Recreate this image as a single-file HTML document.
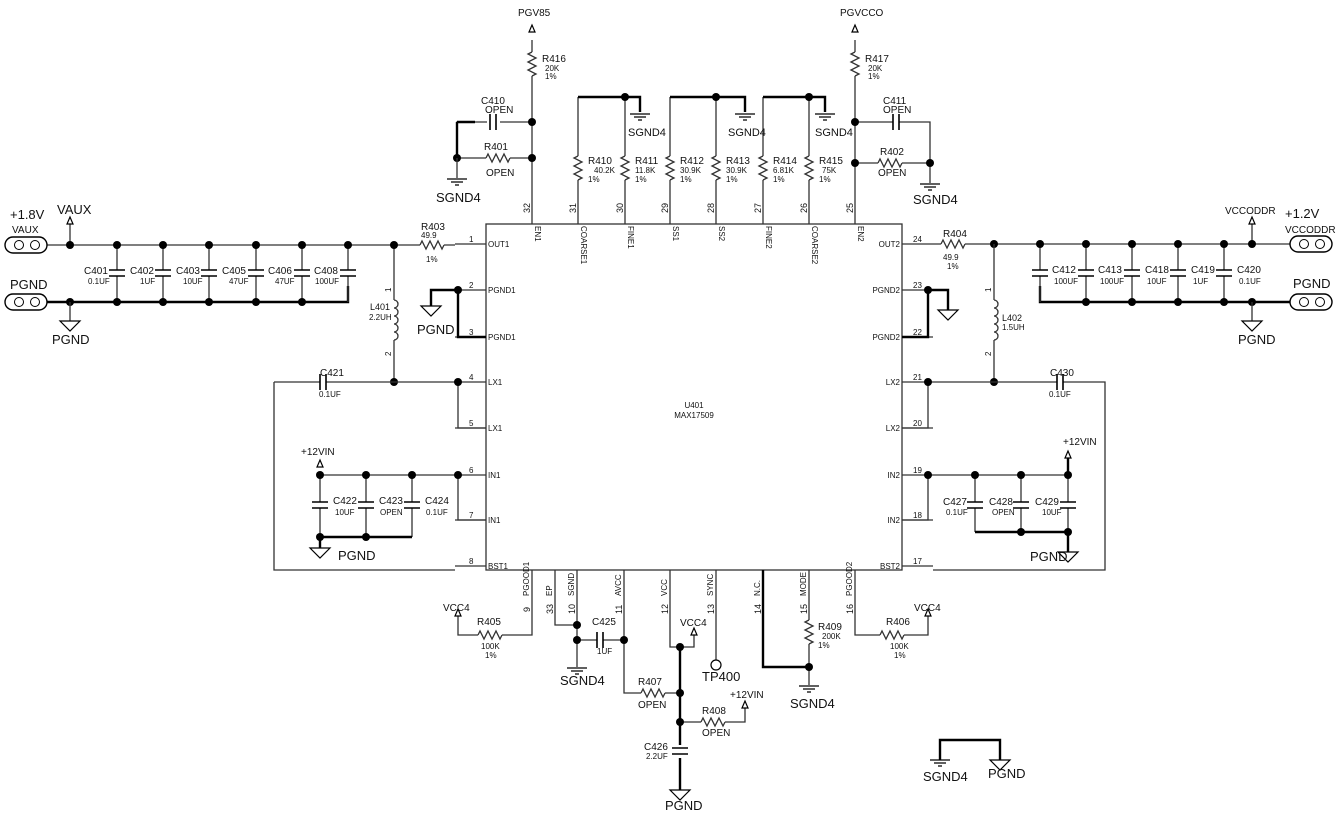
<!DOCTYPE html>
<html><head><meta charset="utf-8"><style>
body{margin:0;background:#fff}
svg{display:block}
text{font-family:"Liberation Sans",Arial,sans-serif;fill:#111}
.w{stroke:#333;stroke-width:1.3;fill:none}
.b{stroke:#000;stroke-width:2.4;fill:none}
.s{font-size:8px}
.m{font-size:11px}
.l{font-size:13px}
</style></head><body>
<svg width="1341" height="816" viewBox="0 0 1341 816" xmlns="http://www.w3.org/2000/svg">
<defs>
<g id="dot"><circle r="4" fill="#000"/></g>
<g id="rh"><rect x="0" y="-5" width="24" height="10" fill="#fff"/><path d="M0,0 l2,-4 l4,8 l4,-8 l4,8 l4,-8 l4,8 l2,-4" class="w"/></g>
<g id="rv"><rect x="-5" y="0" width="10" height="24" fill="#fff"/><path d="M0,0 l-4,2 l8,4 l-8,4 l8,4 l-8,4 l8,4 l-4,2" class="w"/></g>
<g id="cv"><rect x="-9" y="-3" width="18" height="6" fill="#fff"/><path d="M-8,-3 h16 M-8,3 h16" stroke="#000" stroke-width="1.6"/></g>
<g id="ch"><rect x="-3" y="-9" width="6" height="18" fill="#fff"/><path d="M-3,-8 v16 M3,-8 v16" stroke="#000" stroke-width="1.6"/></g>
<g id="sg"><path d="M-10,0 h20 M-6,3 h12 M-2,6 h4" stroke="#000" stroke-width="1.2"/></g>
<g id="pg"><polygon points="-10,0 10,0 0,10" fill="#fff" stroke="#000" stroke-width="1.2"/></g>
<g id="ar"><polygon points="-3,0 3,0 0,-7" fill="#fff" stroke="#000" stroke-width="1.2"/></g>
<g id="cn"><rect x="0" y="-8" width="42" height="16" rx="8" fill="#fff" stroke="#000" stroke-width="1.4"/><circle cx="14" cy="0" r="4.5" fill="#fff" stroke="#000"/><circle cx="30" cy="0" r="4.5" fill="#fff" stroke="#000"/></g>
<g id="coil"><path d="M0,0 a4,4 0 1 1 0,8 a4,4 0 1 1 0,8 a4,4 0 1 1 0,8 a4,4 0 1 1 0,8 a4,4 0 1 1 0,8" fill="#fff" stroke="#333" stroke-width="1.3"/></g>
</defs>

<!-- chip -->
<rect x="486" y="224" width="416" height="346" fill="none" stroke="#333" stroke-width="1.3"/>
<text x="694" y="408" class="s" text-anchor="middle">U401</text>
<text x="694" y="418" class="s" text-anchor="middle">MAX17509</text>
<!-- left pins -->
<g class="w"><path d="M455,244H486M455,290H486M455,337H486M455,382H486M455,428H486M455,475H486M455,520H486M455,566H486"/>
<path d="M902,244H933M902,290H933M902,337H933M902,382H933M902,428H933M902,475H933M902,520H933M902,566H933"/></g>
<g class="s">
<text x="488" y="247">OUT1</text><text x="488" y="293">PGND1</text><text x="488" y="340">PGND1</text><text x="488" y="385">LX1</text><text x="488" y="431">LX1</text><text x="488" y="478">IN1</text><text x="488" y="523">IN1</text><text x="488" y="569">BST1</text>
<text x="900" y="247" text-anchor="end">OUT2</text><text x="900" y="293" text-anchor="end">PGND2</text><text x="900" y="340" text-anchor="end">PGND2</text><text x="900" y="385" text-anchor="end">LX2</text><text x="900" y="431" text-anchor="end">LX2</text><text x="900" y="478" text-anchor="end">IN2</text><text x="900" y="523" text-anchor="end">IN2</text><text x="900" y="569" text-anchor="end">BST2</text>
</g>
<g class="s" font-size="9">
<text x="469" y="242">1</text><text x="469" y="288">2</text><text x="469" y="335">3</text><text x="469" y="380">4</text><text x="469" y="426">5</text><text x="469" y="473">6</text><text x="469" y="518">7</text><text x="469" y="564">8</text>
<text x="913" y="242">24</text><text x="913" y="288">23</text><text x="913" y="335">22</text><text x="913" y="380">21</text><text x="913" y="426">20</text><text x="913" y="473">19</text><text x="913" y="518">18</text><text x="913" y="564">17</text>
</g>
<!-- top pins -->
<path class="w" d="M532,224V40M578,224V97M625,224V97M670,224V97M716,224V97M763,224V97M809,224V97M855,224V40"/>
<g class="s">
<g transform="translate(535,226) rotate(90)"><text>EN1</text></g>
<g transform="translate(581,226) rotate(90)"><text>COARSE1</text></g>
<g transform="translate(628,226) rotate(90)"><text>FINE1</text></g>
<g transform="translate(673,226) rotate(90)"><text>SS1</text></g>
<g transform="translate(719,226) rotate(90)"><text>SS2</text></g>
<g transform="translate(766,226) rotate(90)"><text>FINE2</text></g>
<g transform="translate(812,226) rotate(90)"><text>COARSE2</text></g>
<g transform="translate(858,226) rotate(90)"><text>EN2</text></g>
</g>
<g font-size="9">
<g transform="translate(530,213) rotate(-90)"><text>32</text></g>
<g transform="translate(576,213) rotate(-90)"><text>31</text></g>
<g transform="translate(623,213) rotate(-90)"><text>30</text></g>
<g transform="translate(668,213) rotate(-90)"><text>29</text></g>
<g transform="translate(714,213) rotate(-90)"><text>28</text></g>
<g transform="translate(761,213) rotate(-90)"><text>27</text></g>
<g transform="translate(807,213) rotate(-90)"><text>26</text></g>
<g transform="translate(853,213) rotate(-90)"><text>25</text></g>
</g>
<!-- top resistor groups -->
<path class="b" d="M578,97H640V112M670,97H745V112M763,97H825V112"/>
<use href="#dot" x="625" y="97"/><use href="#dot" x="716" y="97"/><use href="#dot" x="809" y="97"/>
<use href="#sg" x="640" y="114"/><use href="#sg" x="745" y="114"/><use href="#sg" x="825" y="114"/>
<text x="628" y="136" class="m" font-size="10">SGND4</text><text x="728" y="136" class="m" font-size="10">SGND4</text><text x="815" y="136" class="m" font-size="10">SGND4</text>
<use href="#rv" x="578" y="156"/><use href="#rv" x="625" y="156"/><use href="#rv" x="670" y="156"/><use href="#rv" x="716" y="156"/><use href="#rv" x="763" y="156"/><use href="#rv" x="809" y="156"/>
<g font-size="10"><text x="588" y="164">R410</text><text x="635" y="164">R411</text><text x="680" y="164">R412</text><text x="726" y="164">R413</text><text x="773" y="164">R414</text><text x="819" y="164">R415</text></g>
<g class="s"><text x="594" y="173">40.2K</text><text x="635" y="173">11.8K</text><text x="680" y="173">30.9K</text><text x="726" y="173">30.9K</text><text x="773" y="173">6.81K</text><text x="822" y="173">75K</text>
<text x="588" y="182">1%</text><text x="635" y="182">1%</text><text x="680" y="182">1%</text><text x="726" y="182">1%</text><text x="773" y="182">1%</text><text x="819" y="182">1%</text></g>
<!-- PGV85 -->
<use href="#ar" x="532" y="32"/><text x="518" y="16" font-size="10">PGV85</text>
<use href="#rv" x="532" y="52"/><text x="542" y="62" font-size="10">R416</text><text x="545" y="71" class="s">20K</text><text x="545" y="79" class="s">1%</text>
<path class="w" d="M532,122H500M487,122H457V158H532"/><path class="b" d="M457,122H475M457,122V158"/>
<use href="#ch" x="493" y="122"/><use href="#rh" x="486" y="158"/>
<use href="#dot" x="532" y="122"/><use href="#dot" x="532" y="158"/><use href="#dot" x="457" y="158"/>
<path class="w" d="M457,158V178"/><use href="#sg" x="457" y="179"/>
<text x="481" y="104" font-size="10">C410</text><text x="485" y="113" font-size="10">OPEN</text>
<text x="484" y="150" font-size="10">R401</text><text x="486" y="176" font-size="10">OPEN</text>
<text x="436" y="202" class="l" font-size="12">SGND4</text>
<!-- PGVCCO -->
<use href="#ar" x="855" y="32"/><text x="840" y="16" font-size="10">PGVCCO</text>
<use href="#rv" x="855" y="52"/><text x="865" y="62" font-size="10">R417</text><text x="868" y="71" class="s">20K</text><text x="868" y="79" class="s">1%</text>
<path class="w" d="M855,122H930V163M855,163H930V183"/>
<use href="#ch" x="896" y="122"/><use href="#rh" x="878" y="163"/>
<use href="#dot" x="855" y="122"/><use href="#dot" x="855" y="163"/><use href="#dot" x="930" y="163"/>
<use href="#sg" x="930" y="184"/>
<text x="883" y="104" font-size="10">C411</text><text x="883" y="113" font-size="10">OPEN</text>
<text x="880" y="155" font-size="10">R402</text><text x="878" y="176" font-size="10">OPEN</text>
<text x="913" y="204" class="l" font-size="12">SGND4</text>

<!-- LEFT rail -->
<path class="w" d="M45,245H455"/><path class="b" d="M45,302H348V286"/>
<use href="#rh" x="420" y="245"/>
<text x="421" y="230" font-size="10">R403</text><text x="421" y="238" class="s">49.9</text><text x="426" y="262" class="s">1%</text>
<use href="#cn" x="5" y="245"/><use href="#cn" x="5" y="302"/>
<text x="10" y="219" class="l" font-size="12">+1.8V</text><text x="12" y="233" font-size="10">VAUX</text>
<text x="10" y="289" class="l" font-size="14">PGND</text>
<path class="w" d="M70,245V224"/><use href="#ar" x="70" y="224"/><text x="57" y="214" class="l">VAUX</text>
<use href="#dot" x="70" y="245"/><use href="#dot" x="70" y="302"/>
<path class="w" d="M70,302V321"/><use href="#pg" x="70" y="321"/><text x="52" y="344" class="l" font-size="12">PGND</text>
<g class="w"><path d="M117,245V302M163,245V302M209,245V302M256,245V302M302,245V302M348,245V302"/></g>
<use href="#cv" x="117" y="273"/><use href="#cv" x="163" y="273"/><use href="#cv" x="209" y="273"/><use href="#cv" x="256" y="273"/><use href="#cv" x="302" y="273"/><use href="#cv" x="348" y="273"/>
<g><use href="#dot" x="117" y="245"/><use href="#dot" x="163" y="245"/><use href="#dot" x="209" y="245"/><use href="#dot" x="256" y="245"/><use href="#dot" x="302" y="245"/><use href="#dot" x="348" y="245"/>
<use href="#dot" x="117" y="302"/><use href="#dot" x="163" y="302"/><use href="#dot" x="209" y="302"/><use href="#dot" x="256" y="302"/><use href="#dot" x="302" y="302"/></g>
<g font-size="10"><text x="84" y="274">C401</text><text x="130" y="274">C402</text><text x="176" y="274">C403</text><text x="222" y="274">C405</text><text x="268" y="274">C406</text><text x="314" y="274">C408</text></g>
<g class="s" font-size="7"><text x="88" y="284">0.1UF</text><text x="140" y="284">1UF</text><text x="183" y="284">10UF</text><text x="229" y="284">47UF</text><text x="275" y="284">47UF</text><text x="315" y="284">100UF</text></g>
<!-- L401 -->
<path class="w" d="M394,245V300M394,340V382"/><use href="#coil" x="394" y="300"/>
<use href="#dot" x="394" y="245"/><use href="#dot" x="394" y="382"/>
<text x="370" y="310" font-size="9">L401</text><text x="369" y="320" class="s" font-size="7">2.2UH</text>
<g font-size="8"><g transform="translate(391,292) rotate(-90)"><text>1</text></g><g transform="translate(391,356) rotate(-90)"><text>2</text></g></g>
<!-- LX1 loop -->
<path class="w" d="M274,382H455M274,382V570H455M458,382V428H486"/>
<use href="#ch" x="323" y="382"/><use href="#dot" x="458" y="382"/>
<text x="320" y="376" font-size="10">C421</text><text x="319" y="397" class="s" font-size="7">0.1UF</text>
<!-- PGND1 -->
<path class="b" d="M458,290V337H486M458,290H431V306"/>
<use href="#dot" x="458" y="290"/><use href="#pg" x="431" y="306"/><text x="417" y="334" class="l" font-size="12">PGND</text>
<!-- IN1 -->
<path class="w" d="M320,475H455M458,475V520H486M320,475V537M366,475V537M412,475V537"/>
<path class="b" d="M320,537H412M320,537V548"/>
<use href="#cv" x="320" y="505"/><use href="#cv" x="366" y="505"/><use href="#cv" x="412" y="505"/>
<use href="#dot" x="320" y="475"/><use href="#dot" x="366" y="475"/><use href="#dot" x="412" y="475"/><use href="#dot" x="458" y="475"/>
<use href="#dot" x="320" y="537"/><use href="#dot" x="366" y="537"/>
<use href="#ar" x="320" y="467"/><text x="301" y="455" font-size="10">+12VIN</text>
<use href="#pg" x="320" y="548"/><text x="338" y="560" class="l" font-size="12">PGND</text>
<g font-size="10"><text x="333" y="504">C422</text><text x="379" y="504">C423</text><text x="425" y="504">C424</text></g>
<g class="s" font-size="7"><text x="335" y="515">10UF</text><text x="380" y="515">OPEN</text><text x="426" y="515">0.1UF</text></g>

<!-- RIGHT rail -->
<path class="w" d="M933,244H1290"/><path class="b" d="M1040,286V302H1290"/>
<use href="#rh" x="941" y="244"/>
<text x="943" y="237" font-size="10">R404</text><text x="943" y="260" class="s">49.9</text><text x="947" y="269" class="s">1%</text>
<use href="#cn" x="1290" y="244"/><use href="#cn" x="1290" y="302"/>
<text x="1285" y="218" class="l" font-size="12">+1.2V</text><text x="1285" y="233" font-size="10">VCCODDR</text>
<text x="1293" y="288" class="l" font-size="13">PGND</text>
<path class="w" d="M1252,244V224"/><use href="#ar" x="1252" y="224"/><text x="1225" y="214" font-size="10">VCCODDR</text>
<use href="#dot" x="1252" y="244"/><use href="#dot" x="1252" y="302"/>
<path class="w" d="M1252,302V321"/><use href="#pg" x="1252" y="321"/><text x="1238" y="344" class="l" font-size="12">PGND</text>
<g class="w"><path d="M1040,244V302M1086,244V302M1132,244V302M1178,244V302M1224,244V302"/></g>
<use href="#cv" x="1040" y="273"/><use href="#cv" x="1086" y="273"/><use href="#cv" x="1132" y="273"/><use href="#cv" x="1178" y="273"/><use href="#cv" x="1224" y="273"/>
<use href="#dot" x="994" y="244"/><use href="#dot" x="1040" y="244"/><use href="#dot" x="1086" y="244"/><use href="#dot" x="1132" y="244"/><use href="#dot" x="1178" y="244"/><use href="#dot" x="1224" y="244"/>
<use href="#dot" x="1086" y="302"/><use href="#dot" x="1132" y="302"/><use href="#dot" x="1178" y="302"/><use href="#dot" x="1224" y="302"/>
<g font-size="10"><text x="1052" y="273">C412</text><text x="1098" y="273">C413</text><text x="1145" y="273">C418</text><text x="1191" y="273">C419</text><text x="1237" y="273">C420</text></g>
<g class="s" font-size="7"><text x="1054" y="284">100UF</text><text x="1100" y="284">100UF</text><text x="1147" y="284">10UF</text><text x="1193" y="284">1UF</text><text x="1239" y="284">0.1UF</text></g>
<!-- L402 -->
<path class="w" d="M994,244V300M994,340V382"/><use href="#coil" x="994" y="300"/>
<use href="#dot" x="994" y="382"/>
<text x="1002" y="321" font-size="9">L402</text><text x="1002" y="330" class="s" font-size="7">1.5UH</text>
<g font-size="8"><g transform="translate(991,292) rotate(-90)"><text>1</text></g><g transform="translate(991,356) rotate(-90)"><text>2</text></g></g>
<path class="w" d="M933,382H1105V570H933M928,382V428H902"/>
<use href="#ch" x="1060" y="382"/><use href="#dot" x="928" y="382"/>
<text x="1050" y="376" font-size="10">C430</text><text x="1049" y="397" class="s" font-size="7">0.1UF</text>
<!-- PGND2 -->
<path class="b" d="M928,290V337H902M928,290H948V310"/>
<use href="#dot" x="928" y="290"/><use href="#pg" x="948" y="310"/>
<!-- IN2 -->
<path class="w" d="M933,475H1068M928,475V520H902M975,475V532M1021,475V532M1068,475V532"/>
<path class="b" d="M975,532H1068M1068,532V552M1068,475V458"/>
<use href="#cv" x="975" y="505"/><use href="#cv" x="1021" y="505"/><use href="#cv" x="1068" y="505"/>
<use href="#dot" x="928" y="475"/><use href="#dot" x="975" y="475"/><use href="#dot" x="1021" y="475"/><use href="#dot" x="1068" y="475"/>
<use href="#dot" x="1021" y="532"/><use href="#dot" x="1068" y="532"/>
<use href="#ar" x="1068" y="458"/><text x="1063" y="445" font-size="10">+12VIN</text>
<use href="#pg" x="1068" y="552"/><text x="1030" y="561" class="l" font-size="12">PGND</text>
<g font-size="10"><text x="943" y="505">C427</text><text x="989" y="505">C428</text><text x="1035" y="505">C429</text></g>
<g class="s" font-size="7"><text x="946" y="515">0.1UF</text><text x="992" y="515">OPEN</text><text x="1042" y="515">10UF</text></g>

<!-- bottom pins -->
<g class="s">
<g transform="translate(529,596) rotate(-90)"><text>PGOOD1</text></g>
<g transform="translate(552,596) rotate(-90)"><text>EP</text></g>
<g transform="translate(574,596) rotate(-90)"><text>SGND</text></g>
<g transform="translate(621,596) rotate(-90)"><text>AVCC</text></g>
<g transform="translate(667,596) rotate(-90)"><text>VCC</text></g>
<g transform="translate(713,596) rotate(-90)"><text>SYNC</text></g>
<g transform="translate(760,596) rotate(-90)"><text>N.C.</text></g>
<g transform="translate(806,596) rotate(-90)"><text>MODE</text></g>
<g transform="translate(852,596) rotate(-90)"><text>PGOOD2</text></g>
</g>
<g font-size="9">
<g transform="translate(530,612) rotate(-90)"><text>9</text></g>
<g transform="translate(553,614) rotate(-90)"><text>33</text></g>
<g transform="translate(575,614) rotate(-90)"><text>10</text></g>
<g transform="translate(622,614) rotate(-90)"><text>11</text></g>
<g transform="translate(668,614) rotate(-90)"><text>12</text></g>
<g transform="translate(714,614) rotate(-90)"><text>13</text></g>
<g transform="translate(761,614) rotate(-90)"><text>14</text></g>
<g transform="translate(807,614) rotate(-90)"><text>15</text></g>
<g transform="translate(853,614) rotate(-90)"><text>16</text></g>
</g>
<path class="w" d="M532,570V635H458V616M555,570V625H577M577,570V667M577,640H624M624,570V693H680M670,570V647H694V635M716,570V660M809,570V667M855,570V635H928V616M680,722H745V708"/>
<path class="b" d="M680,647V745M680,758V790M763,570V667H809"/>
<path class="w" d="M809,667V685"/>
<use href="#rh" x="478" y="635"/><use href="#rh" x="880" y="635"/>
<use href="#ar" x="458" y="616"/><use href="#ar" x="928" y="616"/><use href="#ar" x="694" y="635"/><use href="#ar" x="745" y="708"/>
<text x="443" y="611" font-size="10">VCC4</text><text x="914" y="611" font-size="10">VCC4</text>
<text x="477" y="625" font-size="10">R405</text><text x="481" y="649" class="s">100K</text><text x="485" y="658" class="s">1%</text>
<text x="886" y="625" font-size="10">R406</text><text x="890" y="649" class="s">100K</text><text x="894" y="658" class="s">1%</text>
<use href="#dot" x="577" y="625"/><use href="#dot" x="577" y="640"/><use href="#dot" x="624" y="640"/>
<use href="#ch" x="600" y="640"/><text x="592" y="625" font-size="10">C425</text><text x="597" y="654" class="s" font-size="7">1UF</text>
<use href="#sg" x="577" y="668"/><text x="560" y="685" class="l" font-size="12">SGND4</text>
<use href="#rh" x="641" y="693"/><text x="638" y="685" font-size="10">R407</text><text x="638" y="708" font-size="10">OPEN</text>
<use href="#rh" x="701" y="722"/><text x="702" y="714" font-size="10">R408</text><text x="702" y="736" font-size="10">OPEN</text>
<text x="730" y="698" font-size="10">+12VIN</text>
<text x="680" y="626" font-size="10">VCC4</text>
<use href="#dot" x="680" y="647"/><use href="#dot" x="680" y="693"/><use href="#dot" x="680" y="722"/>
<use href="#cv" x="680" y="751"/><text x="644" y="750" font-size="10">C426</text><text x="646" y="759" class="s" font-size="7">2.2UF</text>
<use href="#pg" x="680" y="790"/><text x="665" y="810" class="l" font-size="12">PGND</text>
<circle cx="716" cy="665" r="5" fill="#fff" stroke="#000" stroke-width="1.2"/><text x="702" y="681" class="l" font-size="12">TP400</text>
<use href="#rv" x="809" y="620"/><text x="818" y="630" font-size="10">R409</text><text x="822" y="639" class="s">200K</text><text x="818" y="648" class="s">1%</text>
<use href="#dot" x="809" y="667"/><use href="#sg" x="809" y="686"/><text x="790" y="708" class="l" font-size="12">SGND4</text>
<!-- bottom right -->
<path class="b" d="M940,760V740H1000V760"/>
<use href="#sg" x="940" y="760"/><use href="#pg" x="1000" y="760"/>
<text x="923" y="781" class="l" font-size="12">SGND4</text><text x="988" y="778" class="l" font-size="12">PGND</text>
</svg>
</body></html>
